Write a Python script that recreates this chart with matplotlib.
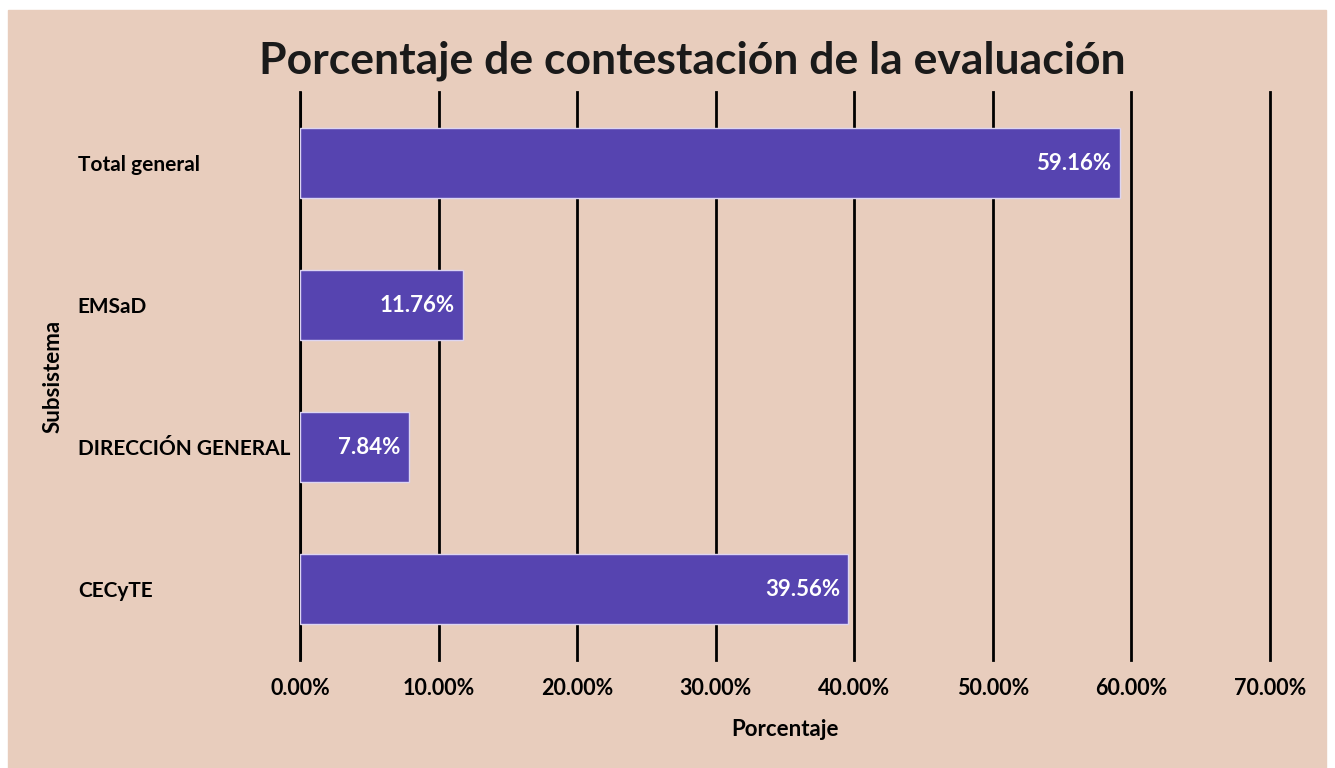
import matplotlib.pyplot as plt

# data
subsistemas = ["CECyTE", "DIRECCIÓN GENERAL", "EMSaD", "Total general"]
porcentajes = [39.56, 7.84, 11.76, 59.16]
ticks_x = [0, 10, 20, 30, 40, 50, 60, 70]

fondo = "#e8cdbd"
barra = "#5644b0"

plt.rcParams["font.family"] = ["Lato", "DejaVu Sans"]

fig = plt.figure(figsize=(13.35, 7.68), dpi=100, facecolor="white")
# scanned page: beige chart area with thin white margin top/left
fig.patches.append(plt.Rectangle((8 / 1335, 0), 1318 / 1335, 758 / 768,
                                 transform=fig.transFigure, color=fondo, zorder=-10))

ax = fig.add_axes([300 / 1335, 1 - 660 / 768, 970 / 1335, 568 / 768])
ax.set_facecolor("none")
ax.set_zorder(5)

y = range(len(subsistemas))
ax.barh(y, porcentajes, height=0.49, color=barra, edgecolor="#ddd5f2",
        linewidth=1, zorder=3)

for i, v in enumerate(porcentajes):
    ax.text(v - 0.6, i, f"{v:.2f}%", color="white", fontsize=16,
            fontweight="bold", ha="right", va="center", zorder=4)

ax.set_xlim(0, 70)
ax.set_ylim(-0.5, 3.5)
ax.set_xticks(ticks_x)
ax.set_xticklabels([f"{t:.2f}%" for t in ticks_x], fontsize=15.5, fontweight="bold")
ax.set_yticks(list(y))
ax.set_yticklabels(subsistemas, fontsize=15, fontweight="bold", ha="left")
ax.tick_params(axis="y", length=0, pad=160)
ax.tick_params(axis="x", length=0, pad=13)

ax.grid(axis="x", color="black", linewidth=2, zorder=1)
for gl in ax.get_xgridlines():
    gl.set_clip_on(False)
ax.set_axisbelow(True)
for s in ax.spines.values():
    s.set_visible(False)
ax.axvline(0, color="black", linewidth=2.2, zorder=2)

ax.set_xlabel("Porcentaje", fontsize=16, fontweight="bold", labelpad=14)
ax.set_ylabel("Subsistema", fontsize=16, fontweight="bold", labelpad=0)
ax.yaxis.set_label_coords(-236 / 970, 0.5)

fig.text(692 / 1335, 1 - 61 / 768, "Porcentaje de contestación de la evaluación",
         fontsize=32, fontweight="bold", ha="center", va="center", color="#1a1a1a")

fig.savefig("out.png", dpi=100, facecolor=fig.get_facecolor())
